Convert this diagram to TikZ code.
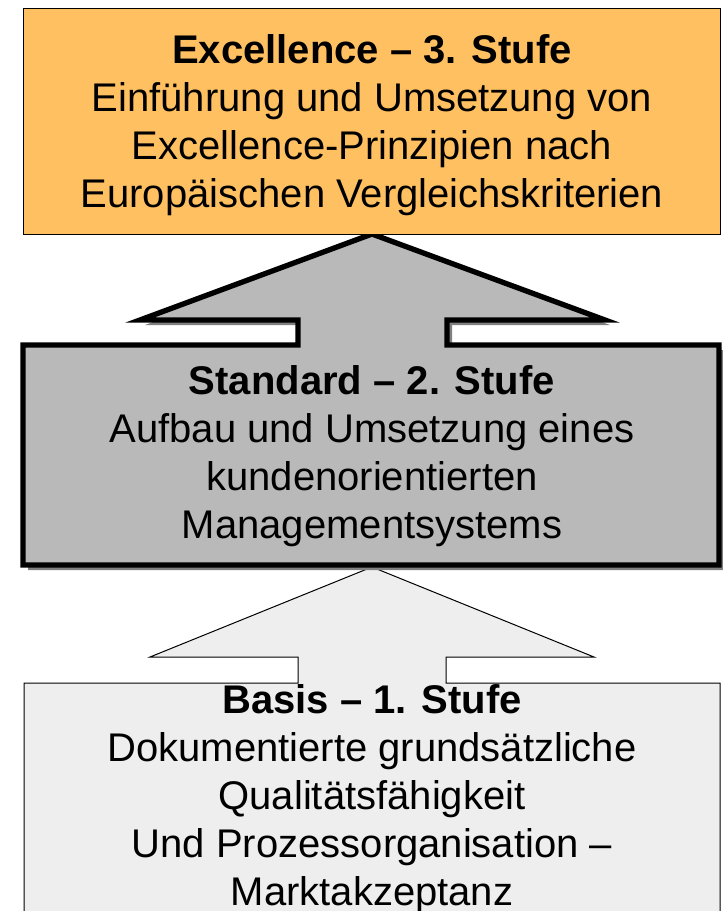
\documentclass[tikz,border=0pt]{standalone}
\usepackage{fontspec}
\setmainfont{Liberation Sans}
\definecolor{excelorange}{RGB}{255,192,97}
\definecolor{standardgray}{RGB}{185,185,185}
\definecolor{basisgray}{RGB}{238,238,238}
\definecolor{shadowgray}{RGB}{128,128,128}
\tikzset{every picture/.style={line width=0.75pt}}
\tikzset{stufetext/.style={anchor=center, inner sep=0pt, align=center, font=\fontsize{30}{36}\selectfont}}

\begin{document}
\begin{tikzpicture}[x=0.75pt,y=0.75pt,yscale=-1]
\useasboundingbox (0,0) rectangle (723,911);

%Shape: Basis block with arrow
\draw [fill=basisgray] (24,930) -- (24,683) -- (298,683) -- (298,657) -- (150,657) -- (372,567) -- (594,657) -- (446,657) -- (446,683) -- (720,683) -- (720,930) -- cycle ;
%Shape: Standard block shadow
\fill [shadowgray, shift={(5,5)}] (23,565) -- (23,345) -- (298,345) -- (298,320) -- (140,320) -- (372,234) -- (605,320) -- (447,320) -- (447,345) -- (719,345) -- (719,565) -- cycle ;
%Shape: Standard block with arrow
\draw [line width=4pt, fill=standardgray] (23,565) -- (23,345) -- (298,345) -- (298,320) -- (140,320) -- (372,234) -- (605,320) -- (447,320) -- (447,345) -- (719,345) -- (719,565) -- cycle ;
%Shape: Rectangle
\draw [fill=excelorange] (23,8) -- (720,8) -- (720,234) -- (23,234) -- cycle ;

% Text Node
\node (excellence) [stufetext] at (372,125) {\textbf{Excellence – 3. Stufe}\\Einführung und Umsetzung von\\Excellence-Prinzipien nach\\Europäischen Vergleichskriterien};
% Text Node
\node (standard) [stufetext] at (372,456) {\textbf{Standard – 2. Stufe}\\Aufbau und Umsetzung eines\\kundenorientierten\\Managementsystems};
% Text Node
\node (basis) [stufetext] at (372,799) {\textbf{Basis – 1. Stufe}\\Dokumentierte grundsätzliche\\Qualitätsfähigkeit\\Und Prozessorganisation –\\Marktakzeptanz};

\end{tikzpicture}
\end{document}
